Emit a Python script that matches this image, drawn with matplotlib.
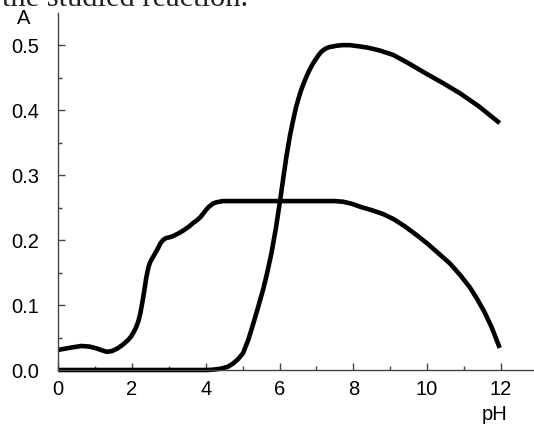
import matplotlib
matplotlib.use('Agg')
import matplotlib.pyplot as plt
from matplotlib.ticker import MultipleLocator

plt.rcParams['font.family'] = ['Liberation Sans', 'DejaVu Sans']

# curve with the 0.26 plateau
ph_low = [0.0, 0.2, 0.4, 0.63, 0.85, 1.05, 1.2, 1.31, 1.45, 1.6, 1.75, 1.89, 1.98,
          2.06, 2.12, 2.17, 2.22, 2.26, 2.30, 2.34, 2.38, 2.42, 2.46, 2.50, 2.55,
          2.62, 2.70, 2.77, 2.84, 2.92, 3.0, 3.11, 3.25, 3.4, 3.55, 3.65, 3.75,
          3.85, 3.92, 4.0, 4.08, 4.19, 4.28, 4.37, 4.46, 4.6, 5.5, 6.5, 7.5, 7.72,
          7.95, 8.2, 8.5, 8.81, 9.1, 9.4, 9.71, 10.0, 10.3, 10.62, 10.9, 11.15,
          11.34, 11.55, 11.75, 11.97]
a_low = [0.031, 0.033, 0.035, 0.037, 0.036, 0.033, 0.030, 0.028, 0.029, 0.033,
         0.039, 0.046, 0.052, 0.060, 0.067, 0.075, 0.086, 0.098, 0.111, 0.125,
         0.140, 0.152, 0.161, 0.167, 0.172, 0.179, 0.187, 0.195, 0.200, 0.203,
         0.204, 0.206, 0.210, 0.215, 0.221, 0.226, 0.230, 0.235, 0.240, 0.246,
         0.251, 0.256, 0.258, 0.259, 0.260, 0.260, 0.260, 0.260, 0.260, 0.259,
         0.256, 0.251, 0.246, 0.240, 0.232, 0.221, 0.208, 0.195, 0.180, 0.164,
         0.146, 0.128, 0.111, 0.090, 0.066, 0.034]

# curve rising to 0.5
ph_high = [0.0, 1.0, 2.0, 3.0, 3.7, 4.02, 4.2, 4.4, 4.6, 4.74, 4.88, 5.01, 5.15,
           5.28, 5.42, 5.56, 5.67, 5.78, 5.90, 6.01, 6.10, 6.19, 6.28, 6.37, 6.45,
           6.52, 6.58, 6.64, 6.71, 6.78, 6.85, 6.91, 6.98, 7.05, 7.12, 7.18, 7.26,
           7.35, 7.45, 7.54, 7.7, 7.9, 8.18, 8.4, 8.7, 9.08, 9.5, 9.98, 10.45,
           10.89, 11.4, 11.97]
a_high = [0.0, 0.0, 0.0, 0.0, 0.0, 0.0, 0.0005, 0.002, 0.005, 0.010, 0.017, 0.026,
          0.046, 0.070, 0.097, 0.125, 0.151, 0.180, 0.218, 0.259, 0.295, 0.330,
          0.360, 0.385, 0.405, 0.419, 0.430, 0.439, 0.449, 0.458, 0.466, 0.472,
          0.478, 0.484, 0.489, 0.492, 0.495, 0.497, 0.498, 0.499, 0.500, 0.500,
          0.498, 0.496, 0.492, 0.485, 0.472, 0.456, 0.441, 0.426, 0.406, 0.380]

W, H = 534, 425
fig = plt.figure(figsize=(W / 100, H / 100), dpi=100)
ax = fig.add_axes([58.3 / W, (H - 370) / H, (W - 58.3) / W, (370 - 13.3) / H])

for xs, ys in [(ph_low, a_low), (ph_high, a_high)]:
    ax.plot(xs, ys, color='black', lw=3.3, solid_joinstyle='round',
            solid_capstyle='butt', clip_on=False)

ax.set_xlim(0, 12.9)
ax.set_ylim(0, 0.549)
for s in ['top', 'right']:
    ax.spines[s].set_visible(False)
for s in ['left', 'bottom']:
    ax.spines[s].set_color('#444444')
    ax.spines[s].set_linewidth(1.0)

ax.xaxis.set_minor_locator(MultipleLocator(1))
ax.yaxis.set_minor_locator(MultipleLocator(0.05))
ax.set_xticks([0, 2, 4, 6, 8, 10, 12])
ax.set_xticklabels(['0', '2', '4', '6', '8', '10', '12'])
ax.set_yticks([0.0, 0.1, 0.2, 0.3, 0.4, 0.5])
ax.set_yticklabels(['0.0', '0.1', '0.2', '0.3', '0.4', '0.5'])

ax.tick_params(which='both', direction='in', color='#444444', width=1.0,
               labelsize=14.5, labelcolor='black')
ax.tick_params(which='major', length=5)
ax.tick_params(which='minor', length=3)
ax.tick_params(axis='y', pad=13.5)
ax.tick_params(axis='x', pad=7)

fig.text(23.5 / W, 1 - 19 / H, 'A', ha='center', va='center', fontsize=14.5)
fig.text(507 / W, 1 - 414 / H, 'pH', ha='right', va='center', fontsize=14.5)

# clipped caption line above the chart
fig.text(248 / W, 1 - 5.7 / H, 'the studied reaction.', ha='right', va='baseline',
         fontsize=22, family='Liberation Serif', color='#222222')

fig.savefig('out.png', dpi=100)
